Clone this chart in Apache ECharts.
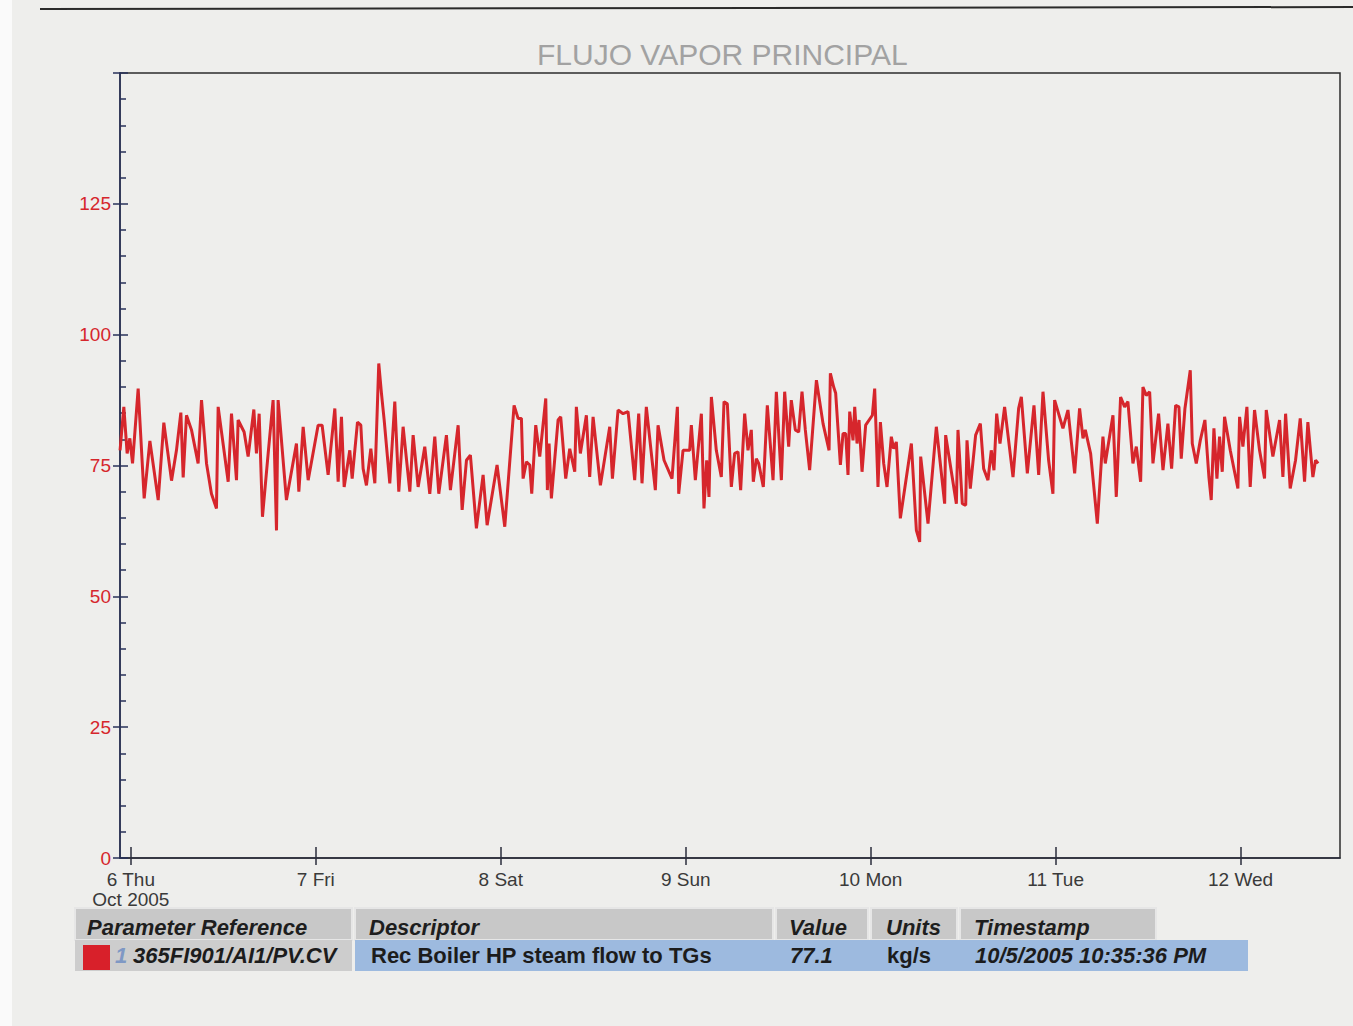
<!DOCTYPE html>
<html><head><meta charset="utf-8">
<script src="https://cdn.jsdelivr.net/npm/echarts@6/dist/echarts.min.js"></script>
<style>html,body{margin:0;padding:0;background:#f6f6f5;}#c{width:1353px;height:1026px;}</style>
</head><body><div id="c"></div>
<script>
// Hours since 6 Oct 2005 00:00 (start of trend = 5 Oct 22:35:36)
const hoursFromOct6 = [
-1.40,-0.91,-0.48,-0.13,0.22,0.95,1.73,2.47,3.55,4.28,5.28,5.92,6.49,6.79,7.22,7.87,8.73,9.17,9.82,10.46,11.11,11.33,12.63,13.06,13.71,13.92,14.70,15.22,15.96,16.30,16.65,17.08,17.82,18.46,18.90,19.11,20.19,
21.49,21.80,22.36,23.01,24.30,24.82,25.60,26.47,26.90,27.33,27.68,28.41,28.72,29.41,29.84,30.14,30.57,31.14,31.66,32.17,32.52,32.87,33.60,34.25,34.77,35.33,36.20,36.63,37.28,38.14,38.79,39.44,39.96,40.95,41.47,42.47,42.99,
43.55,44.06,44.84,45.71,46.23,47.52,48.52,49.73,50.25,50.68,50.90,51.33,51.76,52.02,52.54,53.06,53.84,54.05,54.27,54.57,55.44,55.78,56.43,56.95,57.60,57.81,58.33,59.11,59.54,59.98,60.93,62.14,62.49,63.22,63.87,64.52,65.38,
65.90,66.33,66.89,67.54,68.06,68.41,69.19,70.22,70.92,71.09,71.65,72.51,72.73,73.25,74.03,74.37,74.72,75.02,75.33,75.97,76.62,76.97,77.40,77.92,78.35,78.79,79.13,79.65,80.08,80.51,80.77,81.16,81.47,82.07,82.59,83.33,83.76,84.41,84.84,85.36,85.70,86.22,86.66,87.09,87.52,88.08,
88.96,89.82,90.60,90.77,91.20,91.46,92.07,92.41,92.76,93.06,93.28,93.71,93.93,94.23,94.49,94.88,95.35,96.22,96.52,96.95,97.26,97.69,98.12,98.68,98.99,99.33,99.85,101.28,101.93,102.36,102.49,103.44,104.52,105.60,105.73,107.12,107.33,107.89,108.33,108.50,108.93,109.62,110.23,110.66,111.22,
111.65,112.00,112.35,112.78,113.38,114.47,115.20,115.55,116.33,117.19,117.80,118.36,119.09,119.65,119.87,120.95,121.60,122.47,123.11,123.55,123.85,124.54,125.41,126.14,126.44,127.44,127.87,128.43,128.95,129.38,130.03,130.47,131.03,131.33,131.76,132.20,132.63,133.36,133.93,
134.57,135.05,135.57,136.00,136.30,136.78,137.47,137.73,138.25,138.77,139.37,139.89,140.19,140.54,140.93,141.27,141.62,141.92,142.66,143.65,143.87,144.30,144.82,145.25,145.81,146.46,147.11,147.33,148.19,149.06,149.49,149.84,150.44,151.13,151.74,152.30,152.73,153.38,153.73,154.07
];
// Steam flow, kg/s
const flowValues = [
77.9,86.2,77.3,80.2,75.4,89.7,68.7,79.7,68.4,83.2,72.1,77.9,85.1,72.7,84.6,81.8,75.4,87.5,75.4,69.6,66.8,86.2,71.9,84.9,72.2,83.7,81.4,76.7,85.7,77.3,84.9,65.2,77.3,87.5,62.6,87.5,68.4,
79.2,70.0,82.4,72.2,82.7,82.7,73.2,85.9,71.9,84.3,70.9,77.9,72.5,83.3,82.7,74.4,71.2,78.2,71.6,94.5,88.8,83.7,71.6,87.2,70.0,82.4,70.0,80.8,70.9,78.6,69.6,80.5,69.6,80.8,70.3,82.7,66.5,
76.0,77.0,63.0,73.2,63.6,75.1,63.3,86.5,84.0,84.0,72.5,75.7,75.1,69.6,82.7,76.7,87.8,70.3,79.2,68.7,83.7,84.3,72.5,78.2,73.8,86.2,77.3,84.6,72.8,84.3,71.2,82.4,72.5,85.6,84.9,85.3,72.2,
84.9,71.6,86.2,77.3,70.3,82.7,76.0,72.5,86.2,69.6,77.9,77.9,82.7,72.2,84.9,66.8,76.0,69.0,88.1,77.9,72.8,87.2,86.8,70.9,77.3,77.6,70.3,84.9,77.9,81.8,71.9,76.3,75.4,70.9,86.5,72.2,89.1,72.2,89.1,78.6,87.5,81.8,81.4,89.1,81.8,74.1,
91.3,83.0,77.9,92.6,90.0,88.8,75.1,81.1,81.1,73.2,85.3,79.8,86.2,79.2,83.7,73.8,82.7,84.6,89.7,70.9,83.3,75.4,70.9,80.5,78.2,79.5,64.9,79.2,62.6,60.4,76.7,63.9,82.4,67.7,80.8,67.7,81.8,67.7,67.4,79.8,70.6,80.8,83.0,74.4,72.2,
77.9,74.1,84.9,79.2,86.2,72.8,85.9,88.1,73.5,86.5,73.2,89.1,76.0,69.6,87.5,82.1,85.6,73.5,85.9,80.2,81.8,77.3,63.9,80.5,75.4,84.6,69.0,88.1,86.2,87.2,75.4,78.6,71.9,90.0,88.4,89.1,75.4,84.9,74.1,
83.0,74.4,86.5,86.2,76.3,85.9,93.2,79.2,75.4,79.8,83.7,72.8,68.4,82.1,72.5,80.5,73.8,84.3,77.9,70.6,84.3,78.6,86.2,70.9,85.6,77.9,72.5,85.6,76.7,83.7,72.8,84.9,70.6,76.0,84.0,71.9,83.3,72.8,76.0,75.4
];
const dayTickHours = [0, 24, 48, 72, 96, 120, 144];
const dayTickLabels = ['6 Thu\nOct 2005', '7 Fri', '8 Sat', '9 Sun', '10 Mon', '11 Tue', '12 Wed'];
const xRange = [-1.4067, 156.9];
const yRange = [0, 150];
const yStep = 25;
const chartTitle = 'FLUJO VAPOR PRINCIPAL';
const tableHeaders = ['Parameter Reference', 'Descriptor', 'Value', 'Units', 'Timestamp'];
const rowIndex = '1';
const tableRow = ['365FI901/AI1/PV.CV', 'Rec Boiler HP steam flow to TGs', '77.1', 'kg/s', '10/5/2005 10:35:36 PM'];

const FONT = '"Liberation Sans", Arial, sans-serif';
const AXIS_DARK = '#2a2d3c';
const AXIS_BLUE = '#27305a';
const RED = '#d6262c';

const chart = echarts.init(document.getElementById('c'), null, {renderer: 'svg'});

// table layout
const colX = [75, 355, 776, 871, 960];
const colW = [277, 418, 92, 86, 196];
const headTextX = [87, 369, 789, 886, 974];
const rowTextX = [133, 371, 790, 887, 975];
const headY = 908, headH = 32, rowY = 940, rowH = 31;

const graphics = [];
// scan artifact line at the top edge
graphics.push({type: 'line', shape: {x1: 40, y1: 9, x2: 1353, y2: 7}, style: {stroke: '#2a2a2a', lineWidth: 2}, silent: true});
graphics.push({type: 'rect', shape: {x: 0, y: 0, width: 12, height: 1026}, style: {fill: '#fafafa'}, silent: true});
tableHeaders.forEach((h, i) => {
  graphics.push({type: 'rect', shape: {x: colX[i], y: headY, width: colW[i], height: headH},
    style: {fill: '#c8c8c8', stroke: '#e6e6e6', lineWidth: 2}});
  graphics.push({type: 'text', x: headTextX[i], y: headY + headH / 2 + 3,
    style: {text: h, font: 'italic bold 22px ' + FONT, fill: '#1e1e1e', verticalAlign: 'middle'}});
});
graphics.push({type: 'rect', shape: {x: 75, y: rowY, width: 277, height: rowH}, style: {fill: '#cdcdcd'}});
graphics.push({type: 'rect', shape: {x: 355, y: rowY, width: 893, height: rowH}, style: {fill: '#9dbadf'}});
graphics.push({type: 'rect', shape: {x: 83, y: rowY + 5, width: 27, height: 25}, style: {fill: '#d8202a'}});
graphics.push({type: 'text', x: 115, y: rowY + rowH / 2,
  style: {text: rowIndex, font: 'italic bold 22px ' + FONT, fill: '#7f98c4', verticalAlign: 'middle'}});
tableRow.forEach((t, i) => {
  graphics.push({type: 'text', x: rowTextX[i], y: rowY + rowH / 2,
    style: {text: t, font: (i === 0 || i === 2 || i === 4 ? 'italic ' : '') + 'bold 22px ' + FONT, fill: '#1c1c1c', verticalAlign: 'middle'}});
});

const option = {
  backgroundColor: '#eeeeec',
  animation: false,
  title: {text: chartTitle, left: 532, top: 34,
    textStyle: {color: '#a2a2a2', fontSize: 30, fontWeight: 'normal', fontFamily: FONT}},
  grid: {left: 120, right: 13, top: 73, bottom: 168, show: true, borderColor: '#2c2c2c', borderWidth: 1.5,
    containLabel: false, outerBoundsMode: 'none'},
  xAxis: [
    {type: 'value', min: xRange[0], max: xRange[1], position: 'bottom',
      axisLine: {show: true, onZero: false, lineStyle: {color: AXIS_DARK, width: 1.5}},
      axisTick: {show: true, inside: false, length: 7, customValues: dayTickHours, lineStyle: {color: AXIS_DARK, width: 1.5}},
      axisLabel: {show: true, customValues: dayTickHours, margin: 11, color: '#3a3a3a', fontSize: 19, lineHeight: 20,
        fontFamily: FONT, formatter: v => { const i = dayTickHours.indexOf(Math.round(v)); return i >= 0 ? dayTickLabels[i] : ''; }},
      splitLine: {show: false}},
    {type: 'value', min: xRange[0], max: xRange[1], position: 'bottom',
      axisLine: {show: false, onZero: false},
      axisTick: {show: true, inside: true, length: 11, customValues: dayTickHours, lineStyle: {color: AXIS_DARK, width: 1.5}},
      axisLabel: {show: false}, splitLine: {show: false}}
  ],
  yAxis: [
    {type: 'value', min: yRange[0], max: yRange[1], interval: yStep, position: 'left',
      axisLine: {show: true, onZero: false, lineStyle: {color: AXIS_BLUE, width: 1.5}},
      axisTick: {show: true, inside: false, length: 7, lineStyle: {color: AXIS_BLUE, width: 1.5}},
      axisLabel: {color: RED, fontSize: 19, margin: 9, fontFamily: FONT,
        formatter: v => (v >= yRange[1] ? '' : String(v))},
      splitLine: {show: false}},
    {type: 'value', min: yRange[0], max: yRange[1], interval: yStep, position: 'left', offset: 0,
      axisLine: {show: false, onZero: false},
      axisTick: {show: true, inside: true, length: 8, lineStyle: {color: AXIS_BLUE, width: 1.5}},
      minorTick: {show: true, splitNumber: 5, length: 6, lineStyle: {color: AXIS_BLUE, width: 1.5}},
      axisLabel: {show: false}, splitLine: {show: false}, minorSplitLine: {show: false}}
  ],
  series: [{
    type: 'line', xAxisIndex: 0, yAxisIndex: 0, showSymbol: false, symbol: 'none',
    data: hoursFromOct6.map((h, i) => [h, flowValues[i]]),
    lineStyle: {color: RED, width: 3}, itemStyle: {color: RED}
  }],
  graphic: graphics
};
chart.setOption(option);
</script>
</body></html>
